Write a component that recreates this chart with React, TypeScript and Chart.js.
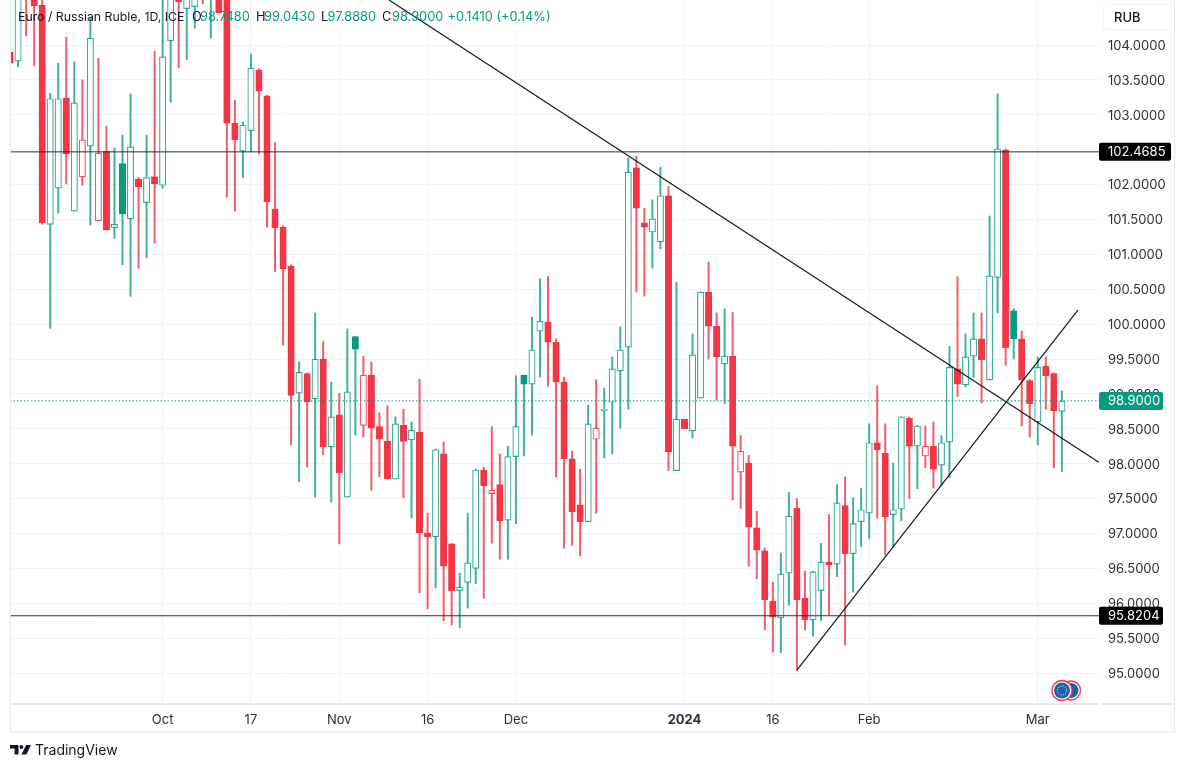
import React, { useEffect, useRef } from 'react';
import { Chart, registerables } from 'chart.js';

Chart.register(...registerables);

const FONT = 'Inter, "Noto Sans", sans-serif';
const RED = '#f23645';
const GREEN = '#089981';
const SOFT_RED = 'rgba(242,54,69,0.82)';
const SOFT_GREEN = 'rgba(8,153,129,0.78)';
const GRID = '#f3f4f7';
const FRAME = '#e6e8ee';

// r = filled red, g = hollow green, R = hollow red, G = filled green
const kinds = [
  'r', 'g', 'r', 'r', 'r', 'g', 'g', 'r', 'g', 'R',
  'g', 'R', 'r', 'g', 'G', 'g', 'r', 'g', 'r', 'g',
  'g', 'r', 'g', 'g', 'r', 'g', 'r', 'r', 'r', 'g',
  'g', 'r', 'r', 'r', 'r', 'r', 'g', 'r', 'g', 'r',
  'g', 'r', 'g', 'G', 'R', 'r', 'r', 'r', 'g', 'r',
  'g', 'r', 'r', 'g', 'r', 'r', 'g', 'g', 'g', 'r',
  'R', 'r', 'g', 'g', 'G', 'g', 'g', 'r', 'r', 'r',
  'r', 'r', 'g', 'R', 'g', 'g', 'g', 'g', 'r', 'r',
  'g', 'g', 'r', 'g', 'r', 'g', 'g', 'r', 'r', 'g',
  'r', 'R', 'r', 'r', 'r', 'r', 'g', 'g', 'r', 'r',
  'g', 'g', 'r', 'g', 'r', 'g', 'g', 'g', 'r', 'r',
  'g', 'g', 'r', 'g', 'R', 'r', 'g', 'g', 'r', 'g',
  'g', 'r', 'g', 'g', 'r', 'G', 'r', 'r', 'g', 'r', 'r', 'g',
];

const opens = [
  103.90, 103.77, 105.08, 104.79, 104.57, 101.43, 101.95, 103.24, 101.62, 102.11,
  102.55, 101.48, 102.48, 101.38, 102.30, 101.51, 102.08, 101.74, 102.11, 101.99,
  104.06, 104.93, 104.52, 104.55, 105.08, 104.72, 104.93, 104.79, 102.88, 102.48,
  102.77, 103.64, 103.27, 101.65, 101.39, 100.83, 99.01, 99.29, 98.93, 99.50,
  98.24, 98.70, 97.52, 99.82, 98.55, 99.27, 98.53, 98.32, 97.78, 98.55,
  98.34, 98.45, 97.01, 96.95, 98.14, 96.85, 96.18, 96.30, 96.50, 97.91,
  97.57, 97.70, 97.19, 98.10, 99.27, 99.14, 99.90, 100.03, 99.74, 99.17,
  98.07, 97.41, 97.17, 98.35, 98.76, 98.88, 99.33, 99.67, 102.24, 101.45,
  101.32, 101.18, 101.84, 97.90, 98.64, 98.47, 98.94, 100.46, 99.97, 99.43,
  99.54, 97.88, 98.01, 97.08, 96.75, 96.03, 95.79, 96.43, 97.36, 96.07,
  95.76, 96.18, 96.59, 96.56, 97.40, 96.71, 97.17, 97.29, 98.30, 98.15,
  97.27, 97.35, 98.65, 98.25, 98.11, 98.25, 97.98, 98.31, 99.36, 99.13,
  99.54, 99.79, 99.20, 100.67, 102.49, 100.19, 99.79, 99.19, 98.60, 99.40, 99.29, 98.748,
];

const closes = [
  103.74, 104.93, 104.76, 104.56, 101.45, 103.23, 103.23, 102.44, 103.17, 102.64,
  104.10, 102.45, 101.35, 101.43, 101.58, 102.54, 101.97, 102.10, 102.01, 103.83,
  105.08, 104.62, 105.08, 104.93, 104.79, 105.08, 104.46, 102.88, 102.64, 102.85,
  103.67, 103.34, 101.75, 101.38, 100.79, 98.98, 99.31, 98.88, 99.50, 98.24,
  98.67, 97.87, 99.03, 99.64, 99.27, 98.51, 98.35, 97.78, 98.57, 98.32,
  98.48, 97.01, 96.95, 98.20, 96.53, 96.18, 96.23, 96.58, 97.91, 97.68,
  97.62, 97.18, 98.10, 98.53, 99.14, 99.63, 100.04, 99.74, 99.17, 98.07,
  97.31, 97.17, 98.57, 98.51, 98.78, 99.36, 99.63, 102.18, 101.66, 101.39,
  101.51, 101.84, 98.17, 98.64, 98.50, 99.56, 100.46, 99.97, 99.53, 99.54,
  98.25, 98.18, 97.09, 96.76, 96.05, 95.80, 96.42, 97.25, 96.05, 95.76,
  96.45, 96.59, 96.55, 97.44, 96.71, 97.14, 97.34, 98.30, 98.20, 97.24,
  97.34, 98.67, 98.25, 98.54, 98.25, 97.92, 98.30, 99.38, 99.14, 99.53,
  99.79, 99.49, 100.69, 102.51, 99.66, 99.79, 99.20, 98.86, 99.38, 99.26, 98.76, 98.90,
];

const highs = [
  105.00, 105.10, 105.30, 105.10, 105.00, 103.31, 103.74, 104.11, 103.76, 103.50,
  104.40, 103.81, 102.84, 102.52, 102.71, 103.30, 102.10, 102.71, 103.91, 105.00,
  105.30, 105.10, 105.20, 105.10, 105.20, 105.30, 105.10, 105.00, 103.21, 102.90,
  103.87, 103.66, 103.28, 102.60, 101.41, 100.85, 99.46, 99.30, 100.16, 99.75,
  99.17, 99.01, 99.93, 99.82, 99.54, 99.46, 98.73, 98.83, 98.67, 98.78,
  98.60, 99.21, 97.29, 98.21, 98.31, 96.86, 96.43, 97.29, 97.92, 97.95,
  98.53, 98.14, 98.25, 99.26, 99.27, 100.10, 100.65, 100.68, 99.79, 99.24,
  98.18, 97.92, 98.84, 99.20, 99.08, 99.53, 99.96, 102.38, 102.41, 101.66,
  101.78, 102.25, 101.97, 100.60, 98.64, 99.86, 100.46, 100.89, 100.16, 100.22,
  100.17, 98.40, 98.12, 97.32, 96.79, 96.30, 96.72, 97.59, 97.50, 96.46,
  96.46, 96.86, 97.27, 97.70, 97.81, 97.51, 97.65, 98.57, 99.11, 98.57,
  98.01, 98.67, 98.67, 98.55, 98.54, 98.60, 98.40, 99.68, 100.68, 99.86,
  100.16, 100.16, 101.55, 103.30, 102.51, 100.22, 99.90, 99.21, 99.53, 99.53, 99.30, 99.043,
];

const lows = [
  103.74, 103.69, 104.13, 103.70, 101.43, 99.94, 101.59, 102.01, 101.62, 101.99,
  101.42, 101.48, 101.35, 101.23, 100.85, 100.40, 100.80, 100.95, 101.16, 101.95,
  103.18, 103.67, 103.79, 104.24, 104.59, 104.10, 104.46, 101.82, 101.62, 102.10,
  102.47, 102.44, 101.39, 100.75, 99.70, 98.27, 97.74, 97.95, 97.52, 98.13,
  97.45, 96.85, 97.52, 98.41, 98.38, 97.62, 97.81, 97.78, 97.78, 97.51,
  97.22, 96.15, 95.92, 96.22, 95.75, 95.69, 95.65, 95.93, 96.28, 96.07,
  96.86, 96.63, 96.63, 97.14, 98.11, 98.41, 99.24, 99.11, 97.81, 96.79,
  96.83, 96.68, 97.17, 97.29, 98.08, 98.14, 98.51, 98.78, 100.46, 100.40,
  100.80, 101.08, 97.90, 97.90, 98.50, 98.37, 98.94, 99.50, 98.91, 98.86,
  97.48, 97.36, 96.53, 96.35, 95.62, 95.30, 95.29, 95.97, 95.04, 95.62,
  95.53, 95.75, 95.83, 96.38, 95.40, 96.16, 96.81, 96.93, 97.22, 96.69,
  96.81, 97.18, 97.50, 97.64, 97.94, 97.65, 97.69, 97.80, 98.96, 99.10,
  99.23, 98.87, 99.20, 100.16, 99.41, 99.50, 98.54, 98.38, 98.27, 98.78, 97.94, 97.888,
];

const tickPositions = [19, 30, 41, 52, 63, 84, 95, 107, 128];
const tickLabels = ['Oct', '17', 'Nov', '16', 'Dec', '2024', '16', 'Feb', 'Mar'];
const priceTicks = [95, 95.5, 96, 96.5, 97, 97.5, 98, 98.5, 99, 99.5, 100, 100.5, 101, 101.5, 102, 102.5, 103, 103.5, 104];

const supportLevels = [102.4685, 95.8204];
const lastPrice = 98.9;
const fallingLine = [
  { x: 47.2, y: 104.645 },
  { x: 135.6, y: 98.02 },
];
const risingLine = [
  { x: 98, y: 95.04 },
  { x: 133, y: 100.2 },
];

const xMin = -0.01;
const xMax = 135.75;
const yMin = 94.556;
const yMax = 104.645;

const isRed = (k: string) => k === 'r' || k === 'R';
const isFilled = (k: string) => k === 'r' || k === 'G';
const kindColor = (k: string) => (isRed(k) ? RED : GREEN);
const softColor = (k: string) => (isRed(k) ? SOFT_RED : SOFT_GREEN);

// prix en étiquettes sur l'échelle + cadre du graphique
const framePlugin = {
  id: 'frame',
  afterDraw(chart: Chart) {
    const { ctx, chartArea, scales } = chart;
    const y = scales.y;
    ctx.save();
    ctx.strokeStyle = FRAME;
    ctx.lineWidth = 1;
    ctx.strokeRect(10.5, -2, 1164, 734);
    ctx.fillStyle = FRAME;
    ctx.fillRect(10, chartArea.bottom - 1, chartArea.right - 11, 2);
    ctx.fillRect(chartArea.right + 2, chartArea.bottom - 1, 1175 - chartArea.right - 2, 2);

    const tag = (value: number, text: string, bg: string, width: number) => {
      const py = y.getPixelForValue(value);
      ctx.fillStyle = bg;
      ctx.beginPath();
      ctx.roundRect(chartArea.right - 1, py - 9, width, 18, 2);
      ctx.fill();
      ctx.fillStyle = '#ffffff';
      ctx.font = `13px ${FONT}`;
      ctx.textAlign = 'left';
      ctx.textBaseline = 'middle';
      ctx.fillText(text, chartArea.right + 8, py + 0.5);
    };
    tag(supportLevels[0], '102.4685', '#000000', 72);
    tag(lastPrice, '98.9000', GREEN, 64);
    tag(supportLevels[1], '95.8204', '#000000', 64);
    ctx.restore();
  },
};

const legendParts: [string, string, number][] = [
  ['Euro / Russian Ruble, 1D, ICE', '#131722', 18],
  ['O', '#131722', 192],
  ['98.7480', GREEN, 200],
  ['H', '#131722', 256],
  ['99.0430', GREEN, 264],
  ['L', '#131722', 321],
  ['97.8880', GREEN, 327.5],
  ['C', '#131722', 382],
  ['98.9000', GREEN, 392],
  ['+0.1410 (+0.14%)', GREEN, 447.5],
];

const App: React.FC = () => {
  const canvasRef = useRef<HTMLCanvasElement>(null);

  useEffect(() => {
    document.body.style.margin = '0';
    if (!canvasRef.current) return;

    const hLine = (value: number, color: string, dash: number[] = []) => ({
      type: 'line' as const,
      data: [
        { x: xMin, y: value },
        { x: xMax, y: value },
      ],
      borderColor: color,
      borderWidth: 1,
      borderDash: dash,
      pointRadius: 0,
      order: 0,
    });
    const trend = (pts: { x: number; y: number }[]) => ({
      type: 'line' as const,
      data: pts,
      borderColor: '#131722',
      borderWidth: 1.2,
      pointRadius: 0,
      order: 0,
    });

    const chart = new Chart(canvasRef.current, {
      type: 'bar',
      data: {
        datasets: [
          hLine(supportLevels[0], '#2a2e39'),
          hLine(supportLevels[1], '#2a2e39'),
          hLine(lastPrice, GREEN, [1.5, 2]),
          trend(fallingLine),
          trend(risingLine),
          {
            // corps des bougies
            data: opens.map((o, i) => ({ x: i, y: [o, closes[i]] })),
            backgroundColor: kinds.map((k) => (isFilled(k) ? kindColor(k) : '#ffffff')),
            borderColor: kinds.map((k) => (isFilled(k) ? kindColor(k) : softColor(k))),
            borderWidth: 1.2,
            borderSkipped: false,
            barThickness: 6.4,
            grouped: false,
            order: 1,
          },
          {
            // mèches
            data: lows.map((l, i) => ({ x: i, y: [l, highs[i]] })),
            backgroundColor: kinds.map(softColor),
            borderWidth: 0,
            barThickness: 1.3,
            grouped: false,
            order: 2,
          },
        ] as any,
      },
      options: {
        animation: false,
        responsive: false,
        maintainAspectRatio: false,
        layout: { padding: { left: 10, right: 10, top: 0, bottom: 36 } },
        plugins: { legend: { display: false }, title: { display: false }, tooltip: { enabled: false } },
        scales: {
          x: {
            type: 'linear',
            min: xMin,
            max: xMax,
            offset: false,
            grid: { color: GRID, offset: false, drawTicks: false },
            border: { display: false },
            afterBuildTicks: (scale: any) => {
              scale.ticks = tickPositions.map((value) => ({ value }));
            },
            afterFit: (scale: any) => {
              scale.height = 28;
              scale.paddingLeft = 0;
              scale.paddingRight = 0;
            },
            ticks: {
              autoSkip: false,
              maxRotation: 0,
              padding: 8,
              color: '#2a2e39',
              font: (ctx: any) => ({
                family: FONT,
                size: 13,
                weight: tickLabels[ctx.index] === '2024' ? 'bold' : 'normal',
              }),
              callback: (_v: any, index: number) => tickLabels[index],
            },
          },
          y: {
            position: 'right',
            min: yMin,
            max: yMax,
            grid: { color: GRID, drawTicks: false },
            border: { display: false },
            afterBuildTicks: (scale: any) => {
              scale.ticks = priceTicks.map((value) => ({ value }));
            },
            afterFit: (scale: any) => {
              scale.width = 75;
              scale.paddingTop = 0;
              scale.paddingBottom = 0;
            },
            ticks: {
              autoSkip: false,
              padding: 8,
              labelOffset: 1,
              color: '#2a2e39',
              font: { family: FONT, size: 13 },
              callback: (v: any) => Number(v).toFixed(4),
            },
          },
        },
      } as any,
      plugins: [framePlugin],
    });

    return () => chart.destroy();
  }, []);

  return (
    <div style={{ position: 'relative', width: 1185, height: 768, overflow: 'hidden', background: '#fff', fontFamily: FONT }}>
      <canvas ref={canvasRef} width={1185} height={768} style={{ display: 'block' }} />

      {legendParts.map(([text, color, left], i) => (
        <span
          key={i}
          style={{
            position: 'absolute', left, top: 9, color, whiteSpace: 'nowrap', lineHeight: '16px',
            fontSize: i === 0 ? 12.3 : 12.8,
          }}
        >
          {text}
        </span>
      ))}

      <div
        style={{
          position: 'absolute', left: 1103, top: 4, width: 57, height: 24, paddingLeft: 10,
          border: '1px solid #f0f3fa', borderRadius: 4, fontSize: 13, lineHeight: '24px', fontWeight: 500, color: '#131722',
        }}
      >
        RUB
      </div>

      {/* pastilles de devise */}
      <svg style={{ position: 'absolute', left: 1050, top: 679 }} width={32} height={24}>
        <circle cx={21} cy={11.5} r={9.5} fill="#fff" stroke={RED} strokeWidth={1.3} />
        <circle cx={21} cy={11.5} r={7.5} fill="#1f62a8" />
        <circle cx={12} cy={11.5} r={10} fill="#fff" stroke={RED} strokeWidth={1.3} />
        <circle cx={12} cy={11.5} r={8} fill="#1f62a8" />
        <circle cx={12} cy={11.5} r={4.6} fill="none" stroke="#9ec3e6" strokeWidth={1.1} strokeDasharray="1.2 1.2" />
      </svg>

      <svg style={{ position: 'absolute', left: 10, top: 745 }} width={21} height={10} viewBox="0 0 21 10">
        <path d="M0 0h8.5v9.5H4.6V3.6H0z" fill="#131722" />
        <circle cx={11.4} cy={1.9} r={1.9} fill="#131722" />
        <path d="M16.2 0H21l-4.6 9.5h-5z" fill="#131722" />
      </svg>
      <div style={{ position: 'absolute', left: 35, top: 741, fontSize: 14, lineHeight: '18px', color: '#131722' }}>TradingView</div>
    </div>
  );
};

export default App;
